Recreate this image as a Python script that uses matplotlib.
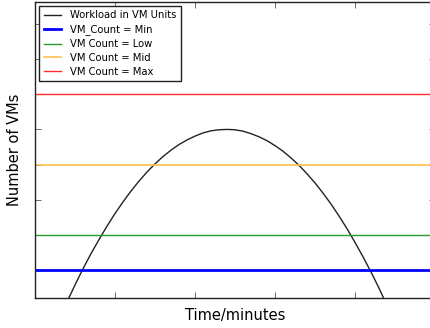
import matplotlib
matplotlib.use('Agg')
import matplotlib.pyplot as plt

# workload curve (x in tick units, y in VM units)
time_pts = [0.4, 0.5, 0.6, 0.7, 0.8, 0.9, 1.0, 1.1, 1.2, 1.3, 1.4, 1.5, 1.6, 1.7,
            1.8, 1.9, 2.0, 2.1, 2.2, 2.3, 2.4, 2.5, 2.6, 2.7, 2.8, 2.9, 3.0, 3.1,
            3.2, 3.3, 3.4, 3.5, 3.6, 3.7, 3.8, 3.9, 4.0, 4.1, 4.2, 4.3, 4.4]
workload = [0.10, 0.58, 1.04, 1.47, 1.87, 2.25, 2.61, 2.94, 3.25, 3.53, 3.79, 4.02,
            4.23, 4.41, 4.57, 4.70, 4.81, 4.90, 4.96, 4.99, 5.00, 4.99, 4.95, 4.88,
            4.79, 4.68, 4.54, 4.38, 4.19, 3.98, 3.74, 3.48, 3.19, 2.88, 2.54, 2.18,
            1.79, 1.38, 0.95, 0.49, 0.00]

# horizontal VM count levels
level_names = ['VM_Count = Min', 'VM Count = Low', 'VM Count = Mid', 'VM Count = Max']
level_values = [1, 2, 4, 6]
level_colors = ['#0000ff', '#2a9a2a', '#ffc04d', '#ff2a2a']
level_widths = [2.0, 1.0, 1.2, 1.0]

x_ticks = [0, 1, 2, 3, 4, 5]
y_ticks = [1, 2, 3, 4, 5, 6, 7, 8]

fig = plt.figure(figsize=(4.3, 3.28), dpi=100)
ax = fig.add_axes([35 / 430, 30 / 328, 400 / 430, 296 / 328])

ax.plot(time_pts, workload, color='#222222', lw=1.0, label='Workload in VM Units')
for name, val, col, lw in zip(level_names, level_values, level_colors, level_widths):
    ax.axhline(val, color=col, lw=lw, label=name)

ax.set_xlim(0, 5)
ax.set_ylim(0.21, 8.62)
ax.set_xticks(x_ticks)
ax.set_yticks(y_ticks)
ax.set_xticklabels([])
ax.set_yticklabels([])
ax.tick_params(direction='in', length=4, width=0.6, color='#555555',
               top=True, right=True)
for s in ax.spines.values():
    s.set_linewidth(1.0)
    s.set_color('#222222')

ax.set_xlabel('Time/minutes', fontsize=10.5, labelpad=4)
ax.set_ylabel('Number of VMs', fontsize=10.5, labelpad=6)

leg = ax.legend(loc='upper left', fontsize=7.2, fancybox=False, framealpha=1,
                edgecolor='#222222', handlelength=1.7, handletextpad=1.0,
                borderpad=0.45, labelspacing=0.38, borderaxespad=0.4)
leg.get_frame().set_linewidth(1.0)

fig.savefig('out.png', dpi=100)
